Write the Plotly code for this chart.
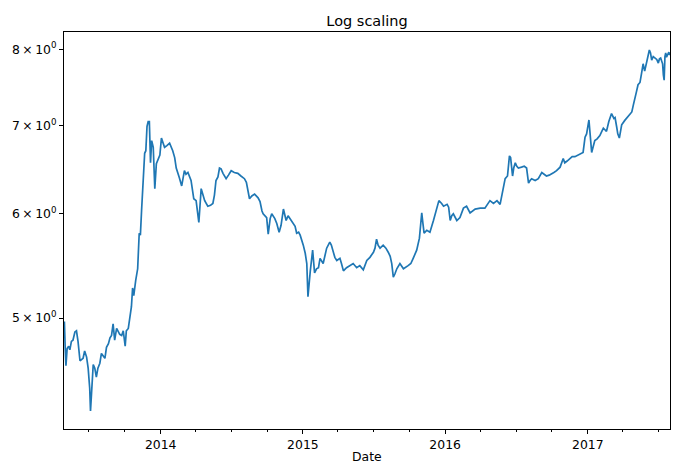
import plotly.graph_objects as go
import math

dates = [
"2013-04-28","2013-04-29","2013-05-01","2013-05-03","2013-05-06","2013-05-10","2013-05-13","2013-05-17","2013-05-21","2013-05-26",
"2013-05-30","2013-06-03","2013-06-08","2013-06-12","2013-06-16","2013-06-20","2013-06-25","2013-06-29","2013-07-03","2013-07-05",
"2013-07-08","2013-07-12","2013-07-16","2013-07-20","2013-07-24","2013-07-29","2013-08-02","2013-08-07","2013-08-11","2013-08-15",
"2013-08-20","2013-08-24","2013-08-28","2013-09-01","2013-09-05","2013-09-10","2013-09-14","2013-09-18","2013-09-23","2013-09-27",
"2013-10-02","2013-10-05","2013-10-10","2013-10-14","2013-10-18","2013-10-21","2013-10-24","2013-10-29","2013-11-03","2013-11-07",
"2013-11-10","2013-11-13","2013-11-17","2013-11-21","2013-11-24","2013-11-27","2013-11-30","2013-12-03","2013-12-06","2013-12-09",
"2013-12-13","2013-12-17","2013-12-21","2013-12-26","2013-12-30",
"2014-01-03","2014-01-07","2014-01-11","2014-01-17","2014-01-24","2014-02-01","2014-02-06","2014-02-10","2014-02-14","2014-02-18",
"2014-02-24","2014-03-03","2014-03-07","2014-03-12","2014-03-20","2014-03-27","2014-04-02","2014-04-09","2014-04-15","2014-04-20",
"2014-04-24","2014-05-02","2014-05-09","2014-05-15","2014-05-19","2014-05-23","2014-05-28","2014-06-01","2014-06-05","2014-06-10",
"2014-06-14","2014-06-18","2014-06-24","2014-07-01","2014-07-09","2014-07-18","2014-07-26","2014-08-04","2014-08-09","2014-08-13",
"2014-08-17","2014-08-23","2014-08-30","2014-09-08","2014-09-13","2014-09-18","2014-09-21","2014-09-30","2014-10-04","2014-10-09",
"2014-10-13","2014-10-21","2014-10-26","2014-11-01","2014-11-06","2014-11-12","2014-11-16","2014-11-19","2014-11-24","2014-11-29",
"2014-12-07","2014-12-12","2014-12-16","2014-12-21","2014-12-25","2014-12-29",
"2015-01-02","2015-01-07","2015-01-11","2015-01-14","2015-01-17","2015-01-20","2015-01-26","2015-01-31","2015-02-05","2015-02-10",
"2015-02-14","2015-02-18","2015-02-22","2015-03-03","2015-03-11","2015-03-15","2015-03-20","2015-03-24","2015-03-29","2015-04-06",
"2015-04-10","2015-04-15","2015-04-23","2015-05-02","2015-05-10","2015-05-19","2015-05-27","2015-06-05","2015-06-14","2015-06-22",
"2015-07-01","2015-07-05","2015-07-09","2015-07-13","2015-07-18","2015-07-26","2015-08-02","2015-08-08","2015-08-13","2015-08-17",
"2015-08-21","2015-08-25","2015-08-30","2015-09-07","2015-09-16","2015-09-28","2015-10-05","2015-10-11","2015-10-20","2015-10-27",
"2015-11-02","2015-11-05","2015-11-08","2015-11-15","2015-11-23","2015-12-02","2015-12-10","2015-12-16","2015-12-23","2015-12-28",
"2016-01-06","2016-01-10","2016-01-14","2016-01-18","2016-01-22","2016-01-26","2016-01-31","2016-02-08","2016-02-17","2016-02-25",
"2016-03-05","2016-03-18","2016-03-31","2016-04-12","2016-04-25","2016-05-04","2016-05-13","2016-05-21","2016-05-28","2016-06-03",
"2016-06-09","2016-06-14","2016-06-17","2016-06-22","2016-06-25","2016-06-29","2016-07-03","2016-07-07","2016-07-15","2016-07-22",
"2016-07-28","2016-08-02","2016-08-06","2016-08-10","2016-08-19","2016-08-27","2016-09-05","2016-09-11","2016-09-17","2016-09-24",
"2016-09-30","2016-10-06","2016-10-13","2016-10-22","2016-10-30","2016-11-03","2016-11-09","2016-11-16","2016-11-22","2016-11-29",
"2016-12-06","2016-12-12","2016-12-20","2016-12-25","2016-12-29",
"2017-01-04","2017-01-07","2017-01-11","2017-01-15","2017-01-19","2017-01-25","2017-02-01","2017-02-06","2017-02-10","2017-02-14",
"2017-02-18","2017-02-24","2017-03-03","2017-03-09","2017-03-12","2017-03-16","2017-03-19","2017-03-23","2017-03-26","2017-03-29",
"2017-04-06","2017-04-12","2017-04-19","2017-04-24","2017-04-28","2017-05-03","2017-05-06","2017-05-10","2017-05-15","2017-05-19",
"2017-05-23","2017-05-27","2017-06-01","2017-06-05","2017-06-08","2017-06-11","2017-06-14","2017-06-18","2017-06-22","2017-06-27",
"2017-07-01","2017-07-04","2017-07-07","2017-07-10","2017-07-12","2017-07-14","2017-07-16","2017-07-18","2017-07-20","2017-07-22",
"2017-07-25","2017-07-28","2017-07-31",
]

log_price = [
4.90,4.97,4.75,4.60,4.74,4.76,4.73,4.80,4.81,4.88,
4.89,4.80,4.64,4.65,4.66,4.72,4.67,4.58,4.42,4.25,
4.45,4.61,4.58,4.51,4.58,4.62,4.70,4.68,4.66,4.75,
4.78,4.83,4.85,4.95,4.81,4.91,4.88,4.86,4.85,4.89,
4.76,4.89,4.91,4.99,5.10,5.27,5.20,5.34,5.45,5.80,
5.78,6.03,6.39,6.67,6.70,6.99,7.05,7.05,6.56,6.82,
6.74,6.27,6.55,6.62,6.65,
6.85,6.80,6.74,6.76,6.79,6.70,6.62,6.50,6.45,6.39,
6.30,6.47,6.43,6.45,6.36,6.16,6.14,5.91,6.27,6.18,
6.14,6.08,6.09,6.11,6.20,6.36,6.40,6.50,6.49,6.44,
6.40,6.38,6.42,6.47,6.45,6.44,6.41,6.38,6.34,6.25,
6.16,6.19,6.21,6.17,6.13,6.03,6.00,5.96,5.79,5.95,
6.00,5.95,5.90,5.81,5.88,6.05,5.98,5.93,5.98,5.95,
5.90,5.87,5.80,5.81,5.78,5.74,
5.68,5.60,5.50,5.19,5.32,5.43,5.63,5.41,5.45,5.46,
5.55,5.52,5.50,5.65,5.71,5.68,5.61,5.56,5.53,5.55,
5.50,5.43,5.46,5.48,5.50,5.46,5.48,5.44,5.53,5.56,
5.61,5.65,5.74,5.68,5.65,5.68,5.65,5.61,5.57,5.50,
5.37,5.40,5.45,5.50,5.45,5.48,5.50,5.55,5.63,5.75,
6.01,5.90,5.80,5.83,5.81,5.93,6.06,6.14,6.11,6.08,
6.10,6.07,5.93,5.98,6.00,5.97,5.93,5.96,6.06,6.08,
6.01,6.05,6.06,6.06,6.14,6.11,6.14,6.10,6.27,6.38,
6.41,6.64,6.62,6.41,6.50,6.56,6.52,6.50,6.51,6.52,
6.50,6.33,6.36,6.38,6.36,6.38,6.45,6.43,6.41,6.42,
6.44,6.45,6.47,6.51,6.61,6.56,6.58,6.61,6.63,6.63,
6.65,6.66,6.68,6.86,6.90,
7.07,6.85,6.68,6.75,6.82,6.84,6.88,6.93,6.97,6.95,
6.93,7.05,7.15,7.09,7.10,6.99,6.90,6.85,6.92,7.01,
7.065,7.10,7.13,7.17,7.26,7.35,7.43,7.52,7.55,7.67,
7.80,7.70,7.81,7.90,7.99,7.95,7.85,7.90,7.88,7.86,
7.81,7.87,7.88,7.82,7.80,7.65,7.58,7.90,7.95,7.89,
7.93,7.96,7.92,
]

y_ticks = [5, 6, 7, 8]
y_tick_text = ["5\u2009×\u200910<sup>0</sup>", "6\u2009×\u200910<sup>0</sup>",
               "7\u2009×\u200910<sup>0</sup>", "8\u2009×\u200910<sup>0</sup>"]
x_ticks = ["2014-01-01", "2015-01-01", "2016-01-01", "2017-01-01"]
x_tick_text = ["2014", "2015", "2016", "2017"]

vmin, vmax = min(log_price), max(log_price)
lo, hi = math.log10(vmin), math.log10(vmax)
pad = (hi - lo) * 0.05

FONT = "DejaVu Sans"
TICK = 12.4

fig = go.Figure()
fig.add_trace(go.Scatter(x=dates, y=log_price, mode="lines",
                         line=dict(color="#1f77b4", width=1.7), hoverinfo="x+y"))

fig.update_layout(
    width=673, height=465,
    margin=dict(l=64, r=3, t=32, b=36),
    paper_bgcolor="white", plot_bgcolor="white",
    showlegend=False,
    font=dict(family=FONT, size=TICK, color="black"),
    title=dict(text="Log scaling", x=0.5, xref="paper", xanchor="center",
               y=1 - 20.5 / 465, yref="container", yanchor="middle",
               font=dict(family=FONT, size=14.5, color="black")),
)

fig.update_xaxes(
    type="date", range=[dates[0], dates[-1]],
    showgrid=False, zeroline=False,
    showline=True, linecolor="black", linewidth=1, mirror=True,
    tickmode="array", tickvals=x_ticks, ticktext=x_tick_text,
    ticks="outside", ticklen=4, tickwidth=1, tickcolor="black",
    tickfont=dict(family=FONT, size=TICK, color="black"),
    minor=dict(ticks="outside", ticklen=2, tickwidth=1, tickcolor="black",
               dtick="M3", tick0="2014-01-01", showgrid=False),
)

fig.update_yaxes(
    type="log", range=[lo - pad, hi + pad],
    showgrid=False, zeroline=False,
    showline=True, linecolor="black", linewidth=1, mirror=True,
    tickmode="array", tickvals=y_ticks, ticktext=y_tick_text,
    ticks="outside", ticklen=4, tickwidth=1, tickcolor="black",
    tickfont=dict(family=FONT, size=TICK, color="black"),
)

fig.add_annotation(text="Date", xref="paper", yref="paper", x=0.5, y=-0.0705,
                   xanchor="center", yanchor="middle", showarrow=False,
                   font=dict(family=FONT, size=TICK, color="black"))

fig.write_html("out.html", config={"displayModeBar": False})
